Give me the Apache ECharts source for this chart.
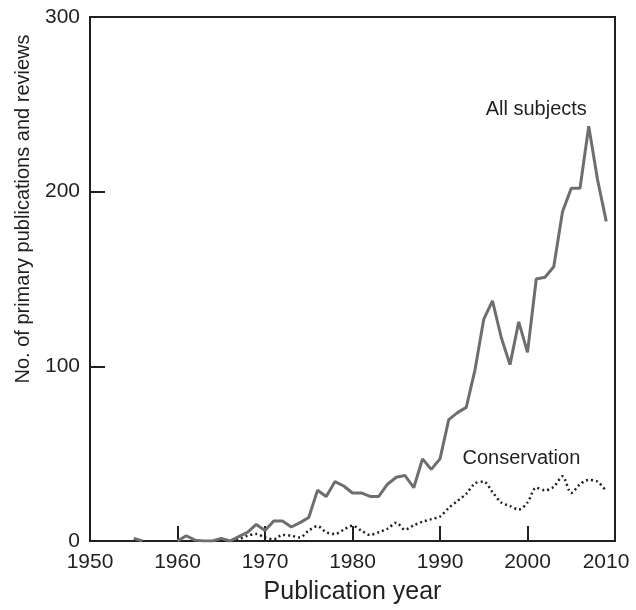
<!DOCTYPE html>
<html>
<head>
<meta charset="utf-8">
<script src="https://cdn.jsdelivr.net/npm/echarts@6/dist/echarts.min.js"></script>
<style>
  html, body { margin: 0; padding: 0; background: #fff; }
  #chart { width: 636px; height: 610px; }
</style>
</head>
<body>
<div id="chart"></div>
<script>
  // publication years on the x axis
  var years = [];
  for (var y = 1955; y <= 2009; y++) years.push(y);

  // all subjects, 1955..2009 (null = no visible line)
  var allSubjects = [
    1.5, 0, null, null, null,                 // 1955-1959
    0, 3, 0.5, 0, 0, 1.5, 0, 2.5, 5, 9.5,     // 1960-1969
    6, 11.5, 11.5, 8, 10.5, 13.5, 29, 25.5, 34, 31.5, // 1970-1979
    27.5, 27.5, 25.5, 25.5, 32.5, 36.5, 37.5, 30.5, 47, 41, // 1980-1989
    47, 69.5, 73.5, 76.5, 98, 127, 137.5, 116.5, 101, 125.5, // 1990-1999
    108, 150, 151, 157, 188.5, 202, 202, 237.5, 207, 183  // 2000-2009
  ];

  // conservation, 1955..2009
  var conservation = [
    null, null, null, null, null,
    null, null, null, null, null, 0, 0, 1, 3, 4,
    2, 1, 3.5, 3, 2, 6, 8.5, 5, 4, 6.5,
    8.8, 6, 3.5, 5, 7, 10.5, 6.5, 9, 11, 12.5,
    14, 19, 23, 27, 33, 34, 28, 22, 20, 18,
    22, 30.5, 29, 31, 37, 27.5, 32.5, 35, 34, 28.5
  ];

  var yTicks = [0, 100, 200, 300];
  var xTicks = [1950, 1960, 1970, 1980, 1990, 2000, 2010];

  function pairs(vals) {
    return years.map(function (yr, i) { return [yr, vals[i]]; });
  }

  var ink = '#231f20';
  var font = 'Liberation Sans, Arial, sans-serif';

  // invisible marker that only carries a text label
  function tag(text, coord) {
    return {
      symbol: 'circle',
      symbolSize: 1,
      itemStyle: { color: 'rgba(0,0,0,0)' },
      data: [{ coord: coord }],
      label: { show: true, position: 'inside', formatter: text, fontSize: 20, color: ink, fontFamily: font }
    };
  }

  var chart = echarts.init(document.getElementById('chart'), null, { renderer: 'canvas' });
  chart.setOption({
    animation: false,
    backgroundColor: '#fff',
    textStyle: { fontFamily: font, color: ink },
    grid: {
      left: 90, right: 21, top: 17, bottom: 68,
      show: true, borderColor: ink, borderWidth: 2, backgroundColor: 'transparent'
    },
    xAxis: {
      type: 'value',
      min: xTicks[0], max: xTicks[xTicks.length - 1], interval: 10,
      name: 'Publication year',
      nameLocation: 'middle',
      nameGap: 39,
      nameTextStyle: { fontSize: 25, color: ink, fontFamily: font },
      axisLine: { show: true, onZero: false, lineStyle: { color: ink, width: 2 } },
      axisTick: { show: true, inside: true, length: 15, lineStyle: { color: ink, width: 2 } },
      splitLine: { show: false },
      axisLabel: {
        fontSize: 21, color: ink, margin: 11, fontFamily: font,
        formatter: function (v) { return v === 2010 ? '{e|' + v + '}' : String(v); },
        rich: { e: { fontSize: 21, color: ink, fontFamily: font, padding: [0, 18, 0, 0] } }
      }
    },
    yAxis: {
      type: 'value',
      min: yTicks[0], max: yTicks[yTicks.length - 1], interval: 100,
      name: 'No. of primary publications and reviews',
      nameLocation: 'middle',
      nameRotate: 90,
      nameGap: 57,
      nameTextStyle: { fontSize: 20, color: ink, fontFamily: font, padding: [0, 0, 0, 140] },
      axisLine: { show: true, lineStyle: { color: ink, width: 2 } },
      axisTick: { show: true, inside: true, length: 15, lineStyle: { color: ink, width: 2 } },
      splitLine: { show: false },
      axisLabel: { fontSize: 21, color: ink, margin: 10, fontFamily: font }
    },
    series: [
      {
        name: 'All subjects',
        type: 'line',
        data: pairs(allSubjects),
        showSymbol: false,
        lineStyle: { color: '#6d6e71', width: 3 },
        z: 3,
        markPoint: tag('All subjects', [2001, 247])
      },
      {
        name: 'Conservation',
        type: 'line',
        data: pairs(conservation),
        showSymbol: false,
        smooth: 0.3,
        lineStyle: { color: '#231f20', width: 2.5, type: [2, 3] },
        z: 2,
        markPoint: tag('Conservation', [1999.3, 47.5])
      }
    ]
  });
</script>
</body>
</html>
